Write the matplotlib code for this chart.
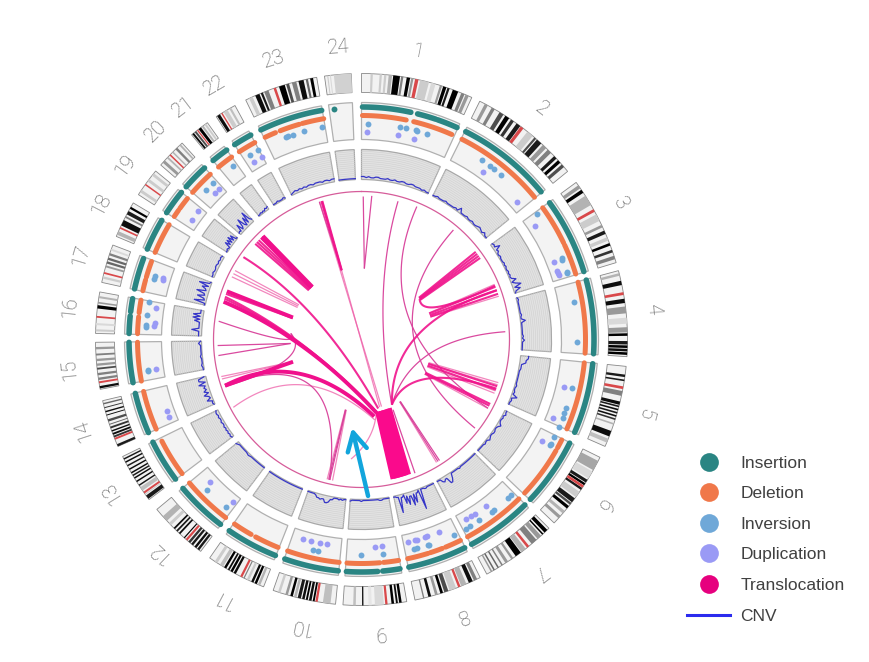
import numpy as np
import matplotlib
matplotlib.use("Agg")
import matplotlib.pyplot as plt
from matplotlib.lines import Line2D

# sectors, degrees clockwise from the top
CHROMS = [str(i) for i in range(1, 25)]
SEC_START = [0, 26.4, 53.8, 75, 95.8, 116.3, 135.2, 153.5, 170.2, 185.6, 201.6, 217.2,
             233, 246.3, 259.2, 271.3, 282.4, 292.8, 303, 311, 320.3, 326.9, 334.2, 352]
SEC_END = [24.5, 50.8, 73.2, 93.7, 113.7, 133.6, 151.9, 168.4, 184, 199.4, 214.8, 230.3,
           243.9, 256.7, 269.4, 280.3, 290.8, 300.9, 309.3, 317.6, 324.6, 331.6, 350.3, 357.8]
LABEL_ANGLE = [11.1, 38, 62.2, 84, 104.6, 124.4, 142.4, 160, 176.4, 191.8, 208, 223.5,
               238.5, 251.9, 264.2, 276.2, 286.6, 297.3, 306.4, 315.3, 322.6, 330, 342.6, 355.4]

# ideogram bands (from, to, grey) as fractions of the chromosome
BANDS_1 = [(.08,.1,.8),(.16,.18,.8),(.2,.22,.8),(.24,.27,.7),(.28,.34,0),(.35,.37,.5),(.40,.43,0),(.44,.46,.6),(.52,.6,.8),(.62,.66,.85),(.7,.72,.6),(.73,.76,0),(.77,.79,.1),(.82,.87,0),(.9,.93,.5),(.94,.97,.6)]
BANDS_2 = [(.05,.08,.6),(.12,.15,.5),(.2,.24,.3),(.26,.3,0),(.32,.35,.2),(.38,.42,.1),(.5,.56,.8),(.58,.6,.3),(.61,.66,.1),(.68,.72,.6),(.74,.78,.5),(.82,.85,.1),(.87,.9,0),(.92,.95,.3)]
BANDS_3 = [(.04,.08,.6),(.1,.14,0),(.18,.3,.7),(.42,.5,.8),(.55,.58,.6),(.62,.66,.1),(.7,.74,.8),(.77,.8,0),(.85,.88,.2),(.92,.96,.5)]
BANDS_4 = [(.03,.06,.7),(.12,.17,.05),(.33,.38,.05),(.42,.5,.6),(.55,.62,.85),(.66,.72,.6),(.73,.76,0),(.82,.86,.1),(.87,.9,0),(.91,.94,.05),(.95,.98,0)]
BANDS_5 = [(.1,.13,.1),(.16,.18,.1),(.3,.36,.5),(.43,.47,.05),(.48,.5,.1),(.52,.54,.05),(.56,.58,.1),(.6,.62,.05),(.64,.66,.2),(.7,.72,.7),(.8,.87,.05),(.9,.95,.75)]
BANDS_6 = [(.05,.18,.65),(.2,.3,.85),(.32,.36,.1),(.37,.4,0),(.44,.47,.1),(.5,.58,.8),(.6,.66,.1),(.67,.7,.3),(.72,.76,0),(.8,.84,.7),(.88,.92,.6)]
BANDS_7 = [(.03,.08,0),(.1,.12,0),(.14,.2,.6),(.22,.3,.5),(.4,.47,.7),(.48,.56,0),(.6,.63,.6),(.68,.72,.6),(.76,.78,.5),(.82,.84,.4),(.88,.9,.4),(.92,.94,.6)]
BANDS_8 = [(.05,.1,.5),(.12,.18,.05),(.22,.3,.7),(.38,.48,.8),(.5,.56,.3),(.58,.62,0),(.66,.7,.6),(.76,.8,.05),(.86,.88,.5)]
BANDS_9 = [(.08,.12,0),(.14,.17,.05),(.2,.24,0),(.36,.5,.85),(.55,.6,.9),(.68,.7,0),(.8,.84,.75)]
BANDS_10 = [(.08,.2,.75),(.33,.36,0),(.38,.42,.05),(.44,.47,0),(.49,.53,.05),(.55,.6,.1),(.62,.66,.7),(.68,.72,0),(.76,.8,.6),(.88,.92,.8)]
BANDS_11 = [(.06,.1,.7),(.12,.16,0),(.18,.22,.05),(.26,.3,.8),(.34,.36,.5),(.5,.54,.05),(.56,.6,0),(.62,.65,.05),(.68,.72,0),(.74,.8,.75),(.85,.9,.8)]
BANDS_12 = [(.03,.07,.1),(.09,.13,.05),(.16,.2,.1),(.22,.26,.2),(.34,.36,0),(.44,.47,.05),(.5,.53,.1),(.56,.59,.05),(.65,.7,.8),(.75,.85,.7)]
BANDS_13 = [(.02,.1,.1),(.12,.14,.8),(.22,.3,.75),(.33,.36,.1),(.42,.45,.05),(.5,.53,.05),(.56,.59,.1),(.62,.65,.05),(.7,.73,.05),(.78,.81,.1),(.86,.89,.05),(.93,.96,.1)]
BANDS_14 = [(0,.05,.1),(.2,.24,.2),(.26,.3,.05),(.33,.36,.05),(.4,.44,.2),(.48,.5,.4),(.55,.6,.3),(.68,.7,.05),(.75,.78,.05),(.84,.86,.2),(.92,.95,.4)]
BANDS_15 = [(.02,.07,.05),(.2,.25,.5),(.3,.35,.5),(.42,.46,.3),(.5,.55,.6),(.6,.65,.6),(.72,.76,.5),(.85,.9,.6)]
BANDS_16 = [(.05,.1,.8),(.2,.25,.85),(.6,.68,0),(.72,.76,.6),(.85,.9,.7)]
BANDS_17 = [(.1,.16,.8),(.4,.45,.6),(.5,.56,.4),(.6,.66,.4),(.72,.78,.5),(.85,.9,.85)]
BANDS_18 = [(.05,.15,.7),(.32,.48,.05),(.55,.6,.5),(.65,.75,.1),(.82,.88,0)]
BANDS_19 = [(.1,.2,.8),(.55,.65,.8),(.8,.9,.8)]
BANDS_20 = [(.1,.2,.6),(.3,.36,.7),(.55,.6,.7),(.7,.78,.5),(.88,.94,.7)]
BANDS_21 = [(.05,.15,.05),(.2,.3,.3),(.45,.6,0),(.65,.75,.7),(.82,.92,.8)]
BANDS_22 = [(.05,.2,.05),(.4,.6,.8),(.7,.8,.75)]
BANDS_23 = [(.05,.1,.8),(.14,.2,.05),(.22,.25,.1),(.27,.33,.5),(.48,.56,0),(.58,.62,.3),(.66,.72,.5),(.75,.82,.05),(.85,.88,.4),(.91,.95,0)]
BANDS_24 = [(.1,.14,.8),(.2,.24,.85),(.35,1,.82)]
ALL_BANDS = [BANDS_1, BANDS_2, BANDS_3, BANDS_4, BANDS_5, BANDS_6, BANDS_7, BANDS_8,
             BANDS_9, BANDS_10, BANDS_11, BANDS_12, BANDS_13, BANDS_14, BANDS_15, BANDS_16,
             BANDS_17, BANDS_18, BANDS_19, BANDS_20, BANDS_21, BANDS_22, BANDS_23, BANDS_24]
# centromere position (red band)
CENTROMERE = [.49, .44, .37, .27, .26, .42, .36, .33, .32, .3, .4, .3,
              .17, .17, .15, .4, .25, .25, .42, .45, .38, .3, .42, None]

# insertion / deletion stretches per chromosome
FULL = [(.01, .99)]
INS_SEGS = [[(.01,.5),(.57,.76),(.78,.99)], FULL, FULL, FULL, FULL, FULL, FULL, FULL,
            [(.02,.33),(.42,.98)], FULL, FULL, FULL, FULL, FULL, FULL,
            [(.02,.5),(.62,.98)], [(.02,.95)], FULL, FULL, FULL, FULL, FULL, FULL, []]
DEL_SEGS = [[(.01,.47),(.55,.97)], FULL, [(.01,.55),(.58,.99)], FULL, FULL, [(.02,.15),(.2,.98)], FULL,
            [(.02,.3),(.36,.58),(.62,.98)], [(.02,.3),(.37,.98)], FULL, [(.02,.5),(.6,.98)], FULL,
            [(.02,.92)], FULL, FULL, [(.02,.5),(.62,.98)], [(.02,.36),(.45,.95)], FULL,
            [(.05,.35),(.45,.95)], FULL, FULL, FULL, [(.02,.2),(.28,.6),(.65,1)], []]
INS_POINT = [353.2]

# inversions and duplications, angle only (each type sits on its own track)
INV_ANGLE = [1.6, 10.3, 11.9, 14.5, 15, 17.6, 34, 36.5, 37.8, 40.3, 54.4, 67.9, 68.3, 71.8, 72.2, 79.9, 90.6,
             103.1, 108.4, 110, 111.4, 113.8, 116.8, 118.8, 119.3, 136.1, 137.3, 142.3, 142.9, 146.9, 149.9, 151.1,
             154.7, 161.8, 162.2, 165.2, 165.8, 174.2, 180.1, 191.6, 193, 219, 225.7, 261.5, 262, 273.2, 273.8, 276.5, 280.1,
             286.4, 287, 313.9, 316.4, 323.4, 328.8, 331.4, 339.5, 340.2, 341.6, 344.6, 349.5]
DUP_ANGLE = [1.6, 10.2, 14.6, 36, 48.5, 56.9, 68.2, 70.6, 71.3, 72, 103.2, 112.3, 119.4, 143.2, 147, 148.2, 149.8,
             158.2, 161.5, 162.1, 164.6, 165.2, 167, 174.3, 176.4, 189.7, 191.6, 194, 196.3, 218.3, 226.8, 248, 249.9,
             261.8, 273.8, 274.6, 278.8, 286.6, 287.2, 305.1, 308.2, 315, 316.6, 328.8, 331.4]

# CNV height above the bottom of the track, evenly spaced along each chromosome
CNV_1 = [3,3,2,3,2,2,3,3,2,2,2,3,2,2,3,2,2,3,3,2,2,3,3,2,2,2,1,2,1,1]
CNV_2 = [1,1,2,1,1,1,2,1,1,1,1,2,1,5,1,1,1,2,1,1,2,1,1,2,3,2,1,3,1,1]
CNV_3 = [2,3,2,7,2,3,1,1,2,1,1,1,2,1,2,1,1,2,1,2,1,2,6,1,4,9,2,7,2,1]
CNV_4 = [1,2,1,1,1,1,1,1,1,2,1,1,5,1,1,1,1,1,1,1,2,1,3,1,1,1,1,1]
CNV_5 = [8,8,6,6,2,2,2,1,1,1,1,1,1,1,2,1,1,2,1,6,1,2,1,1]
CNV_6 = [2,2,3,1,2,1,1,2,4,2,1,1,2,2,1,1,2,3,1,1,2,1,1,1,1,1]
CNV_7 = [1,1,1,1,1,1,1,1,1,1,1,1,1,2,1,1,1,1,1,1,6,9,9,3,3,5,4,1,1,1]
CNV_8 = [1,1,1,1,1,1,2,2,1,1,1,21,1,3,3,12,3,14,4,4,12,3,10,1,3,3,18,2,2,1,1]
CNV_9 = [1,1,1,1,2,2,1,1,1,1,1,1,1,1,1,2,1,1,1,1,1,2]
CNV_10 = [1,1,2,1,2,1,1,1,3,3,6,7,7,4,4,5,4,4,2,1,1,1,1,1]
CNV_11 = [1,1,1,1,1,1,1,1,1,1]
CNV_12 = [1,1,1,1,1,1,2,1,1,1,1,3]
CNV_13 = [2,3,2,3,2,3,2,3,2,2,3,2,2,3,2,3,3,2]
CNV_14 = [1,2,1,6,2,3,7,2,6,3,5,3,9,2,8,8,2]
CNV_15 = [1,1,2,1,1,1,2,1,1,1,1,1,3,1]
CNV_16 = [3,3,3,3,10,3,3,3,3,3,8,3,10,3,10,3,3,3]
CNV_17 = [1,1,12,2,3,10,3,4,12,3,4,8,2,12,2,1]
CNV_18 = [2,2,3,2,2,3,3,2,3,2,3,2]
CNV_19 = [1,1,2,1,1,7,2,7,2,8,2,7,1,1]
CNV_20 = [2,3,2,9,2,4,12,4,2,10,3,14,5,3]
CNV_21 = [1,1,2,1,2,1,3,2,3]
CNV_22 = [1,1,1,2,1,1,1,2,1]
CNV_23 = [1,2,3,2,3,2,3,2,3,3,2,3,3,3,2,3,3,2,3,3]
CNV_24 = [1,1,1,1]
ALL_CNV = [CNV_1, CNV_2, CNV_3, CNV_4, CNV_5, CNV_6, CNV_7, CNV_8, CNV_9, CNV_10, CNV_11, CNV_12,
           CNV_13, CNV_14, CNV_15, CNV_16, CNV_17, CNV_18, CNV_19, CNV_20, CNV_21, CNV_22, CNV_23, CNV_24]

# translocations: angle1, r1, angle2, r2, control angle, control r (None = straight)
LINKS_TRUNK = [(161,143,158.5,74,None,None),(162.2,143,160.5,74,None,None),(163.4,143,162.3,74,None,None),
               (164.6,143,164,74,None,None),(165.8,143,165.6,74,None,None),(167,143,167,74,None,None)]
LINKS_HEAVY = [(316.4,143,317,72,None,None),(315.6,143,316,72,None,None),(289.7,143,287.8,72,None,None),
               (285.3,143,168.4,75,273,55),(251.3,144,170.6,78,263.5,62),(251.3,144,252,72,None,None)]
LINKS_MEDIUM = [(312,143,313,72,None,None),(313,143,314,72,None,None),(314,143,315,72,None,None),
                (288.6,143,287.2,72,None,None),(286.6,143,168,75,273,55),(287.4,143,168,75,273,55),
                (304.9,144,166.4,71,310,55),(343.8,144,343.9,72,None,None),(344.2,144,344.1,72,None,None),
                (52.5,144,54,71,None,None),(53.5,144,54.7,71,None,None),(54.5,144,55.4,71,None,None),(55.5,144,56,71,None,None),
                (68,144,55,71,72.8,62),(68.5,144,69,72.5,None,None),(70,144,70.4,72.5,None,None),(71.5,144,71.6,72.5,None,None),
                (70,144,155,72,61,33),(110,143.5,155,72,113.6,53),(109,143.5,110,71,None,None),(110.5,143.5,111.5,71,None,None),
                (116.6,144,117.4,72,None,None),(117.4,144,118.2,72,None,None)]
LINKS_THIN = [(277.3,144,274.9,71,260,60),(267.6,144,266.8,71,None,None),(263.6,144,266.8,71,None,None),
              (274.9,71,251,144,247,52),(251.5,144,192.8,144,265,15),
              (14.8,143,154.9,71,11.8,49),(40,143,128,144,0,5),(22.6,144,118.5,144,11,14),
              (86.9,144,155,72,88.9,50),(158.2,144,155.8,77,None,None),(147.9,144,148.3,73,None,None),
              (147.2,144,147.9,73,None,None),(192.7,144,192.6,72,None,None),(193.2,144,192.8,72,None,None),
              (0.7,143,2.3,71,None,None),(4.1,144,2.3,71,None,None),(343,144,343.9,72,None,None)]
LINKS_PALE = [(295.8,144,296.6,71.5,None,None),(297.2,144,297.8,71.5,None,None),(298.6,144,299,71.5,None,None),
              (255.2,145,252,72,None,None),(254.2,145,252,72,None,None),(242.1,145,170.6,81.5,254,61),
              (343,144,163.4,70,None,None),(344.2,144,165,70,None,None),(67.5,144,68.5,72.5,None,None),(72.5,144,72,72.5,None,None),
              (107.5,143.5,109,71,None,None),(108.4,143.5,109.8,71,None,None),(111,143.5,112,71,None,None),(112,143.5,112.6,71,None,None),
              (118.6,144,118.8,72,None,None),(191.6,144,192.2,72,None,None),(193.8,144,193,72,None,None),
              (148.6,144,148.5,73,None,None),(185,120,168,72,172,100)]
ARROW_TIP = (186.1, 89)
ARROW_TAIL = (177.6, 156.6)

LEGEND_LABELS = ["Insertion", "Deletion", "Inversion", "Duplication", "Translocation", "CNV"]
LEGEND_COLORS = ["#2a8583", "#f0784a", "#6fa8d8", "#9a9af5", "#e6007e", "#2b2bee"]

GREY_TEXT = "#5a5a5a"
IDEO_IN, IDEO_OUT = 247, 266
TRACK_IN, TRACK_OUT = 200, 237
CNV_IN, CNV_OUT = 160, 190
LINK_R = 148
INS_R, DEL_R, INV_R, DUP_R = 232.5, 224, 216, 207.5
RMAX = 310.0

plt.rcParams['font.family'] = ['Liberation Sans', 'DejaVu Sans']


def rad(a):
    return np.radians(a)


def arc(a0, a1, n=60):
    return np.linspace(rad(a0), rad(a1), n)


def link_curve(a1, r1, a2, r2, ca, cr, n=80):
    # quadratic bezier worked out in x,y and handed back as theta,r
    p1 = np.array([r1 * np.sin(rad(a1)), r1 * np.cos(rad(a1))])
    p2 = np.array([r2 * np.sin(rad(a2)), r2 * np.cos(rad(a2))])
    if ca is None:
        c = (p1 + p2) / 2
    else:
        c = np.array([cr * np.sin(rad(ca)), cr * np.cos(rad(ca))])
    t = np.linspace(0, 1, n)[:, None]
    pts = (1 - t)**2 * p1 + 2 * t * (1 - t) * c + t**2 * p2
    return np.arctan2(pts[:, 0], pts[:, 1]), np.hypot(pts[:, 0], pts[:, 1])


fig = plt.figure(figsize=(8.7, 6.62), dpi=100)
# centre of the wheel at 361.5, 339.5 px
ax = fig.add_axes([(361.5 - RMAX) / 870, (662 - 339.5 - RMAX) / 662, 2 * RMAX / 870, 2 * RMAX / 662],
                  projection='polar')
ax.set_theta_zero_location('N')
ax.set_theta_direction(-1)
ax.set_ylim(0, RMAX)
ax.axis('off')

for i, name in enumerate(CHROMS):
    a0, a1 = SEC_START[i], SEC_END[i]
    span = a1 - a0
    mid = rad((a0 + a1) / 2)
    width = rad(span)

    # ideogram
    ax.bar(mid, IDEO_OUT - IDEO_IN, width=width, bottom=IDEO_IN, color='#f2f2f2', edgecolor='#888888', linewidth=0.6, zorder=2)
    for f0, f1, g in ALL_BANDS[i]:
        ax.bar(rad(a0 + (f0 + f1) / 2 * span), IDEO_OUT - IDEO_IN, width=rad((f1 - f0) * span), bottom=IDEO_IN,
               color=str(g), linewidth=0, zorder=3)
    if CENTROMERE[i] is not None:
        ax.bar(rad(a0 + CENTROMERE[i] * span), IDEO_OUT - IDEO_IN, width=rad(0.022 * span + 0.2), bottom=IDEO_IN,
               color='#d9484a', linewidth=0, zorder=4)

    # sv track
    ax.bar(mid, TRACK_OUT - TRACK_IN, width=width, bottom=TRACK_IN, color='#f3f3f3', edgecolor='#b0b0b0', linewidth=0.9, zorder=2)
    for f0, f1 in INS_SEGS[i]:
        ax.plot(arc(a0 + f0 * span, a0 + f1 * span), np.full(60, INS_R), color=LEGEND_COLORS[0], lw=4.0,
                solid_capstyle='round', zorder=5)
    for f0, f1 in DEL_SEGS[i]:
        ax.plot(arc(a0 + f0 * span, a0 + f1 * span), np.full(60, DEL_R), color=LEGEND_COLORS[1], lw=3.6,
                solid_capstyle='round', zorder=5)

    # cnv track
    ax.bar(mid, CNV_OUT - CNV_IN, width=width, bottom=CNV_IN, color='#e2e2e2', edgecolor='#a8a8a8', linewidth=0.9, zorder=2)
    for r in np.arange(CNV_IN + 2, CNV_OUT, 2):
        ax.plot(arc(a0, a1), np.full(60, r), color='#d0d0d0', lw=0.4, zorder=3)
    vals = np.array(ALL_CNV[i], dtype=float)
    ax.plot(np.linspace(rad(a0), rad(a1), len(vals)), CNV_IN + vals, color='#3535c8', lw=0.9, zorder=5)

    # label, reads along the rim so the bottom ones come out upside down
    ax.text(rad(LABEL_ANGLE[i]), 293, name, rotation=-LABEL_ANGLE[i], rotation_mode='anchor', ha='center', va='center',
            fontsize=14.5, family=['Roboto', 'DejaVu Sans'], fontweight='light', color=GREY_TEXT, zorder=6)

ax.scatter(rad(np.array(INS_POINT)), np.full(len(INS_POINT), INS_R), s=18, color=LEGEND_COLORS[0], linewidths=0, zorder=6)
ax.scatter(rad(np.array(INV_ANGLE)), np.full(len(INV_ANGLE), INV_R), s=18, color=LEGEND_COLORS[2], linewidths=0, zorder=6)
ax.scatter(rad(np.array(DUP_ANGLE)), np.full(len(DUP_ANGLE), DUP_R), s=18, color=LEGEND_COLORS[3], linewidths=0, zorder=6)

# link area
ax.plot(arc(0, 360, 361), np.full(361, LINK_R), color='#d65c9a', lw=0.9, zorder=3)
for group, lw, col, alpha in [(LINKS_PALE, 0.9, '#ee5fa8', 0.75), (LINKS_THIN, 0.9, '#d8409a', 0.95),
                              (LINKS_MEDIUM, 1.5, '#f0148c', 0.9), (LINKS_HEAVY, 2.8, '#f0108c', 1.0),
                              (LINKS_TRUNK, 4.4, '#fa0a8c', 1.0)]:
    for a1, r1, a2, r2, ca, cr in group:
        th, rr = link_curve(a1, r1, a2, r2, ca, cr)
        ax.plot(th, rr, color=col, lw=lw, alpha=alpha, solid_capstyle='butt', zorder=4)

ax.annotate('', xy=(rad(ARROW_TIP[0]), ARROW_TIP[1]), xytext=(rad(ARROW_TAIL[0]), ARROW_TAIL[1]),
            arrowprops=dict(arrowstyle='->,head_length=1.3,head_width=0.7', color='#12a5dc', lw=3.2,
                            shrinkA=0, shrinkB=0), zorder=8)

handles = [Line2D([], [], linestyle='none', marker='o', markersize=13.5, markerfacecolor=c, markeredgewidth=0)
           for c in LEGEND_COLORS[:5]]
handles.append(Line2D([], [], color=LEGEND_COLORS[5], lw=2.2))
fig.legend(handles, LEGEND_LABELS, loc='upper left', bbox_to_anchor=(687.5 / 870, 1 - 455.5 / 662), frameon=False,
           fontsize=12.5, labelcolor='#404040', handlelength=2.42, handletextpad=0.63, labelspacing=0.89,
           borderpad=0, borderaxespad=0)

fig.savefig('out.png', dpi=100)
